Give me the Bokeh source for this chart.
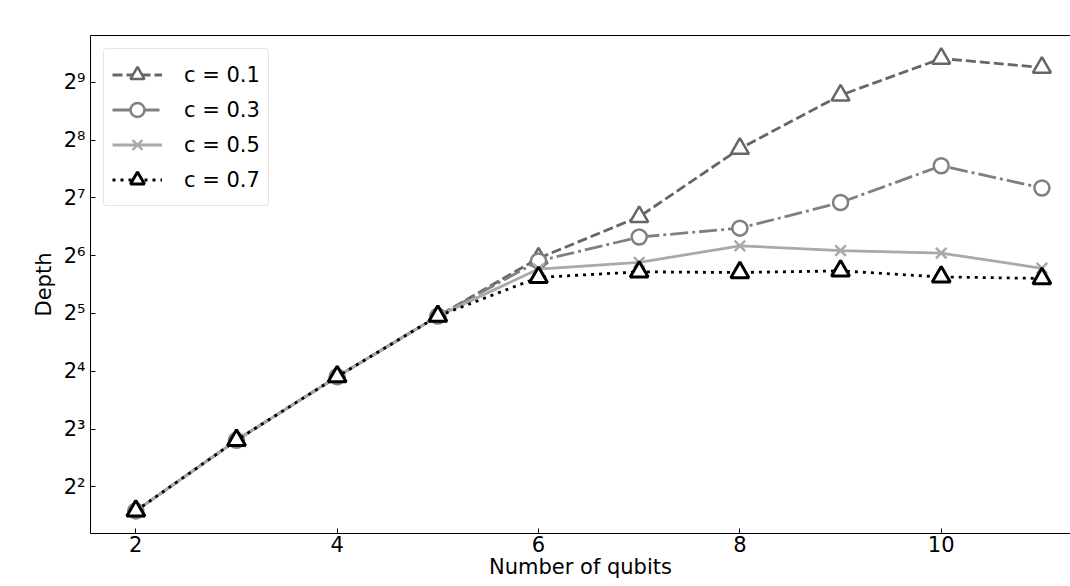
from bokeh.plotting import figure
from bokeh.models import (Range1d, FixedTicker, LinearAxis, Legend, LegendItem,
                          CustomJSTickFormatter)
from bokeh.embed import file_html
from bokeh.resources import INLINE

# ---------------- data ----------------
qubits = [2, 3, 4, 5, 6, 7, 8, 9, 10, 11]
depth_c01 = [3, 7, 15, 31, 62, 102, 231, 438, 680, 611]
depth_c03 = [3, 7, 15, 31, 60, 80, 89, 121, 188, 144]
depth_c05 = [3, 7, 15, 31, 54.5, 59, 72, 68, 66, 55]
depth_c07 = [3, 7, 15, 31, 49.3, 52.7, 52.3, 53.3, 49.6, 48.7]
series_labels = ["c = 0.1", "c = 0.3", "c = 0.5", "c = 0.7"]

xtick_values = [2, 4, 6, 8, 10]
ytick_values = [4, 8, 16, 32, 64, 128, 256, 512]
ytick_labels = ["2\u00b2", "2\u00b3", "2\u2074", "2\u2075", "2\u2076", "2\u2077", "2\u2078", "2\u2079"]
x_title = "Number of qubits"
y_title = "Depth"

# ---------------- styles ----------------
FONT = "DejaVu Sans"
styles = [
    dict(color="#666666", dash="10 4", marker="triangle", size=18, mlw=2.5, fill="white"),
    dict(color="#808080", dash="18 4 3 4", marker="circle", size=15, mlw=2.5, fill="white"),
    dict(color="#a9a9a9", dash="solid", marker="x", size=15, mlw=2.5, fill=None),
    dict(color="#000000", dash="3 5", marker="triangle", size=18, mlw=3, fill="white"),
]

p = figure(width=1070, height=586, output_backend="svg", toolbar_location=None,
           y_axis_type="log",
           x_range=Range1d(1.55, 11.284), y_range=Range1d(2 ** 1.194, 2 ** 9.808),
           min_border_left=90, min_border_right=0, min_border_top=35, min_border_bottom=53)
p.grid.visible = False
p.outline_line_color = None
p.background_fill_color = "white"
p.border_fill_color = "white"

for ax in (p.xaxis[0], p.yaxis[0]):
    ax.axis_line_color = "black"
    ax.axis_line_width = 1
    ax.major_tick_in = 5
    ax.major_tick_out = 0
    ax.major_tick_line_color = "black"
    ax.minor_tick_line_color = None
    ax.major_label_text_font = FONT
    ax.major_label_text_font_size = "21px"
    ax.major_label_text_color = "black"

p.xaxis.ticker = FixedTicker(ticks=xtick_values)
p.xaxis.major_label_standoff = 2
p.xaxis.axis_label = x_title
p.xaxis.axis_label_text_font = FONT
p.xaxis.axis_label_text_font_size = "21px"
p.xaxis.axis_label_text_font_style = "normal"
p.xaxis.axis_label_text_color = "black"
p.xaxis.axis_label_standoff = 0

p.yaxis.ticker = FixedTicker(ticks=ytick_values)
p.yaxis.formatter = CustomJSTickFormatter(
    args=dict(vals=ytick_values, labs=ytick_labels),
    code="""
    for (let i = 0; i < vals.length; i++) {
        if (Math.abs(vals[i] - tick) < 1e-6 * vals[i]) { return labs[i]; }
    }
    return "";
    """)
p.yaxis.major_label_standoff = 5
p.yaxis.axis_label = y_title
p.yaxis.axis_label_text_font = FONT
p.yaxis.axis_label_text_font_size = "21px"
p.yaxis.axis_label_text_font_style = "normal"
p.yaxis.axis_label_text_color = "black"
p.yaxis.axis_label_standoff = 5

# top spine
top = LinearAxis(ticker=FixedTicker(ticks=[]), major_label_text_font_size="0px",
                 axis_line_color="black", major_tick_line_color=None,
                 minor_tick_line_color=None)
p.add_layout(top, "above")

# ---------------- series ----------------
items = []
for vals, lab, st in zip([depth_c01, depth_c03, depth_c05, depth_c07], series_labels, styles):
    lr = p.line(qubits, vals, line_color=st["color"], line_width=2.8, line_dash=st["dash"])
    sr = p.scatter(qubits, vals, marker=st["marker"], size=st["size"],
                   line_color=st["color"], line_width=st["mlw"],
                   fill_color=st["fill"])
    items.append(LegendItem(label=lab, renderers=[lr, sr]))

legend = Legend(items=items, location="top_left", margin=13, padding=8, spacing=0,
                glyph_width=50, glyph_height=35, label_height=35, label_standoff=22,
                label_text_font=FONT, label_text_font_size="21px",
                label_text_color="black",
                border_line_color="#cccccc", border_line_width=1,
                background_fill_color="white", background_fill_alpha=0.8)
if "border_radius" in Legend.properties():
    legend.border_radius = 4
p.add_layout(legend)

open("out.html", "w").write(file_html(p, INLINE))
